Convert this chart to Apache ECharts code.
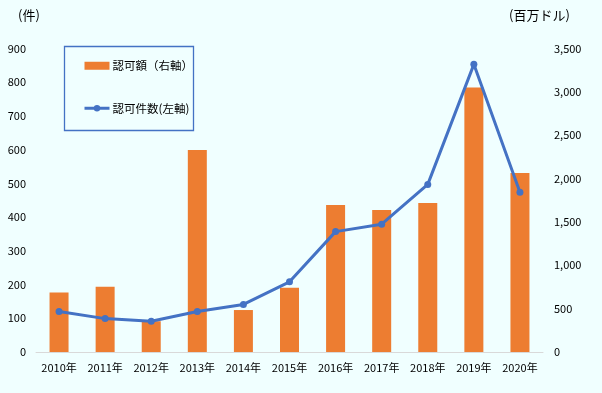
<!DOCTYPE html>
<html><head><meta charset="utf-8">
<script src="https://cdn.jsdelivr.net/npm/echarts@6/dist/echarts.min.js"></script>
<style>html,body{margin:0;padding:0;background:#F0FFFF;}#c{width:602px;height:393px;}</style>
</head><body><div id="c"></div>
<script>
const categories = ['2010年','2011年','2012年','2013年','2014年','2015年','2016年','2017年','2018年','2019年','2020年'];
const amountValues = [685, 753, 355, 2330, 484, 742, 1696, 1638, 1719, 3049, 2065];
const countValues = [120, 99, 91, 120, 141, 208, 357, 379, 497, 853, 474];
const leftTicks = {min: 0, max: 900, interval: 100};
const rightTicks = {min: 0, max: 3500, interval: 500};
const amountName = '認可額（右軸）';
const countName = '認可件数(左軸)';
const leftUnit = '(件)';
const rightUnit = '(百万ドル)';

const font = '"Noto Sans CJK JP", sans-serif';
const chart = echarts.init(document.getElementById('c'));
chart.setOption({
  backgroundColor: '#F0FFFF',
  animation: false,
  textStyle: {fontFamily: font, color: '#000'},
  grid: {left: 36, right: 59, top: 48.5, bottom: 41},
  graphic: [
    {type: 'rect', left: 62, top: 44, shape: {width: 129, height: 84}, style: {fill: 'none', stroke: '#4472C4', lineWidth: 1.3}},
    {type: 'text', left: 18, top: 9, style: {text: leftUnit, font: '13px ' + font, fill: '#000'}},
    {type: 'text', left: 509, top: 9, style: {text: rightUnit, font: '13px ' + font, fill: '#000'}}
  ],
  legend: {
    left: 83, top: 60, padding: 0, orient: 'vertical', itemGap: 31, itemWidth: 25, itemHeight: 8,
    textStyle: {fontFamily: font, fontSize: 11.5, color: '#000', padding: [0,0,0,-2]},
    data: [
      {name: amountName, icon: 'rect', itemStyle: {color: '#ED7D31'}},
      {name: countName, lineStyle: {width: 3, color: '#4472C4'}}
    ]
  },
  xAxis: {
    type: 'category', data: categories,
    axisLine: {lineStyle: {color: '#D9D9D9', width: 1}},
    axisTick: {show: false},
    axisLabel: {fontSize: 11, color: '#000', margin: 10, interval: 0}
  },
  yAxis: [
    {type: 'value', min: leftTicks.min, max: leftTicks.max, interval: leftTicks.interval,
     axisLine: {show: false}, axisTick: {show: false}, splitLine: {show: false},
     axisLabel: {fontSize: 11, color: '#000', margin: 10}},
    {type: 'value', min: rightTicks.min, max: rightTicks.max, interval: rightTicks.interval,
     axisLine: {show: false}, axisTick: {show: false}, splitLine: {show: false},
     axisLabel: {fontSize: 11, color: '#000', margin: 11, align: 'left',
       formatter: v => v.toLocaleString('en-US')}}
  ],
  series: [
    {name: amountName, type: 'bar', yAxisIndex: 1, data: amountValues, barWidth: 19,
     itemStyle: {color: '#ED7D31'}},
    {name: countName, type: 'line', yAxisIndex: 0, data: countValues,
     symbol: 'circle', symbolSize: 7,
     lineStyle: {color: '#4472C4', width: 3}, itemStyle: {color: '#4472C4'}}
  ]
});
</script></body></html>
